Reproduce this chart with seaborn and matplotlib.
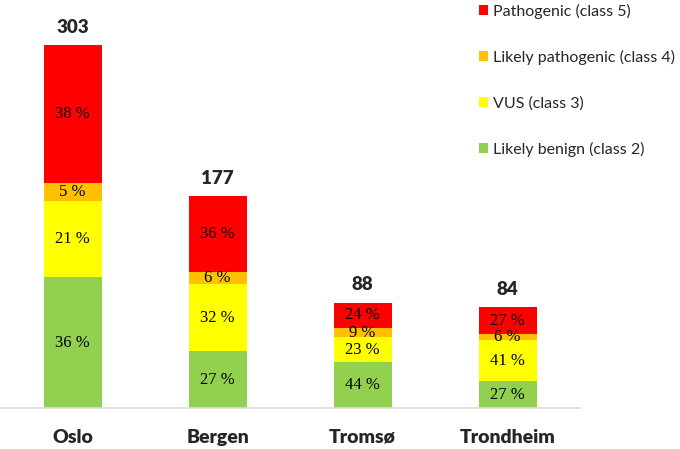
import matplotlib
matplotlib.use("Agg")
import matplotlib.pyplot as plt
from matplotlib.patches import Patch
import numpy as np
import pandas as pd
import seaborn as sns

# data
cities = ["Oslo", "Bergen", "Tromsø", "Trondheim"]
totals = [303, 177, 88, 84]
benign_pct = [36, 27, 44, 27]        # class 2
vus_pct = [21, 32, 23, 41]           # class 3
likely_path_pct = [5, 6, 9, 6]       # class 4
path_pct = [38, 36, 24, 27]          # class 5

classes = ["Likely benign (class 2)", "VUS (class 3)",
           "Likely pathogenic (class 4)", "Pathogenic (class 5)"]
colors = ["#92D050", "#FFFF00", "#FFC000", "#FF0000"]

sns.set_theme(style="white")
plt.rcParams["font.family"] = ["Lato", "DejaVu Sans"]

pct = np.array([benign_pct, vus_pct, likely_path_pct, path_pct], dtype=float)
tot = np.array(totals, dtype=float)
# segment sizes scaled so the stack adds up to the total count
seg = pct / pct.sum(axis=0) * tot
cum = np.cumsum(seg, axis=0)

df = pd.DataFrame({"city": cities})
for k in range(4):
    df[f"cum{k}"] = cum[k]

fig = plt.figure(figsize=(6.8, 4.49), dpi=100)
ax = fig.add_axes([0, 41 / 449, 580 / 680, 408 / 449])

# stacked bars: draw the tallest cumulative layer first
for k in range(3, -1, -1):
    sns.barplot(data=df, x="city", y=f"cum{k}", order=cities, color=colors[k],
                saturation=1, width=0.4, errorbar=None, linewidth=0, ax=ax)

# percentage labels inside segments
for i in range(len(cities)):
    for k in range(4):
        mid = cum[k, i] - seg[k, i] / 2
        ax.text(i, mid, f"{int(pct[k, i])} %", ha="center", va="center",
                fontsize=12, family="Liberation Serif", color="black")
    ax.annotate(str(totals[i]), (i, tot[i]), xytext=(0, 9),
                textcoords="offset points", ha="center", va="baseline",
                fontsize=13.5, fontweight="heavy")

ax.set_xlim(-0.5, 3.5)
ax.set_ylim(0, 341)
ax.set_xlabel("")
ax.set_ylabel("")
ax.set_yticks([])
ax.tick_params(axis="x", length=0, pad=15)
for lbl in ax.get_xticklabels():
    lbl.set_fontsize(14)
    lbl.set_fontweight("heavy")
for side in ["top", "right", "left"]:
    ax.spines[side].set_visible(False)
ax.spines["bottom"].set_color("#D9D9D9")
ax.spines["bottom"].set_linewidth(1.2)

handles = [Patch(facecolor=colors[k], edgecolor="none", label=classes[k])
           for k in range(3, -1, -1)]
fig.legend(handles=handles, loc="upper left", bbox_to_anchor=(479 / 680, 0.992),
           frameon=False, fontsize=11.5, handlelength=0.55, handleheight=0.55,
           handletextpad=0.35, labelspacing=1.95, borderpad=0, borderaxespad=0)

fig.savefig("out.png", dpi=100)
